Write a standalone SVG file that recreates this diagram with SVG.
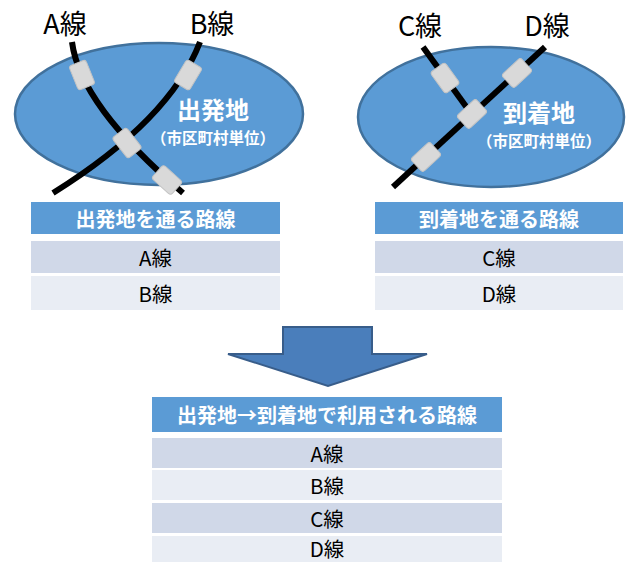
<svg xmlns="http://www.w3.org/2000/svg" width="627" height="562" viewBox="0 0 627 562">
  <style>
    text { font-family: "Noto Sans CJK JP", "Noto Sans", "Liberation Sans", sans-serif; text-anchor: middle; dominant-baseline: central; }
    .area { fill: #5b9bd5; stroke: #41719c; stroke-width: 2.5; }
    .track { fill: none; stroke: #000; stroke-width: 6; stroke-linecap: butt; }
    .joint { fill: #d9d9d9; stroke: #c4c4c4; stroke-width: 1; }
    .line-name { font-size: 27px; fill: #000; }
    .place { font-size: 24px; font-weight: bold; fill: #fff; }
    .unit { font-size: 15.5px; font-weight: bold; fill: #fff; }
    .th { fill: #5b9bd5; }
    .r1 { fill: #d0d8e8; }
    .r2 { fill: #e9edf4; }
    .th-text { font-size: 20px; font-weight: bold; fill: #fff; }
    .td-text { font-size: 20.5px; fill: #000; }
    .flow { fill: #4a7ebb; stroke: #385d8a; stroke-width: 2; stroke-linejoin: miter; }
  </style>

  <!-- origin area -->
  <g id="origin">
    <ellipse class="area" cx="159" cy="114" rx="144" ry="71"/>
    <text class="place" x="213" y="108">出発地</text>
    <text class="unit" x="213" y="137">（市区町村単位）</text>
  </g>

  <!-- destination area -->
  <g id="destination">
    <ellipse class="area" cx="491" cy="117" rx="133" ry="70"/>
    <text class="place" x="539" y="111">到着地</text>
    <text class="unit" x="539" y="140">（市区町村単位）</text>
  </g>

  <!-- railway lines -->
  <g id="connectors">
    <path id="line-a" class="track" d="M72,42 Q80,105 183,193"/>
    <path id="line-b" class="track" d="M200,42 Q170,120 53,193"/>
    <path id="line-c" class="track" d="M423,47 L470,112"/>
    <path id="line-d" class="track" d="M545,47 L393,187"/>
  </g>

  <!-- stations on the lines -->
  <g id="stations">
    <rect class="joint" x="-9" y="-13" width="18" height="26" rx="3" transform="translate(82,75) rotate(-22)"/>
    <rect class="joint" x="-9" y="-13" width="18" height="26" rx="3" transform="translate(188,75) rotate(31)"/>
    <rect class="joint" x="-9" y="-13" width="18" height="26" rx="3" transform="translate(127,143) rotate(-38)"/>
    <rect class="joint" x="-9" y="-13" width="18" height="26" rx="3" transform="translate(167,180) rotate(-48)"/>
    <rect class="joint" x="-9" y="-13" width="18" height="26" rx="3" transform="translate(445,78) rotate(-36)"/>
    <rect class="joint" x="-9" y="-13" width="18" height="26" rx="3" transform="translate(517,73) rotate(47)"/>
    <rect class="joint" x="-9" y="-13" width="18" height="26" rx="3" transform="translate(472,114) rotate(47)"/>
    <rect class="joint" x="-9" y="-13" width="18" height="26" rx="3" transform="translate(426,157) rotate(47)"/>
  </g>

  <!-- line names -->
  <g id="labels">
    <text class="line-name" x="65" y="22">A線</text>
    <text class="line-name" x="212" y="22">B線</text>
    <text class="line-name" x="420" y="24">C線</text>
    <text class="line-name" x="547" y="24">D線</text>
  </g>

  <!-- lines through origin -->
  <g id="origin-table">
    <rect class="th" x="31" y="202" width="249" height="32"/>
    <text class="th-text" x="155.5" y="218">出発地を通る路線</text>
    <rect class="r1" x="31" y="241" width="249" height="32"/>
    <text class="td-text" x="155.5" y="257">A線</text>
    <rect class="r2" x="31" y="276" width="249" height="34"/>
    <text class="td-text" x="155.5" y="293">B線</text>
  </g>

  <!-- lines through destination -->
  <g id="destination-table">
    <rect class="th" x="375" y="202" width="248" height="32"/>
    <text class="th-text" x="499" y="218">到着地を通る路線</text>
    <rect class="r1" x="375" y="241" width="248" height="32"/>
    <text class="td-text" x="499" y="257">C線</text>
    <rect class="r2" x="375" y="276" width="248" height="34"/>
    <text class="td-text" x="499" y="293">D線</text>
  </g>

  <!-- downward arrow -->
  <g id="flow-arrow">
    <polygon class="flow" points="283,327 372,327 372,354 427,354 328,386 228,354 283,354"/>
  </g>

  <!-- combined result -->
  <g id="result-table">
    <rect class="th" x="152" y="397" width="350" height="35"/>
    <text class="th-text" x="327" y="414.5">出発地→到着地で利用される路線</text>
    <rect class="r1" x="152" y="438" width="350" height="30"/>
    <text class="td-text" x="327" y="453">A線</text>
    <rect class="r2" x="152" y="470" width="350" height="30"/>
    <text class="td-text" x="327" y="485">B線</text>
    <rect class="r1" x="152" y="503" width="350" height="30"/>
    <text class="td-text" x="327" y="518">C線</text>
    <rect class="r2" x="152" y="536" width="350" height="30"/>
    <text class="td-text" x="327" y="548">D線</text>
  </g>
</svg>
